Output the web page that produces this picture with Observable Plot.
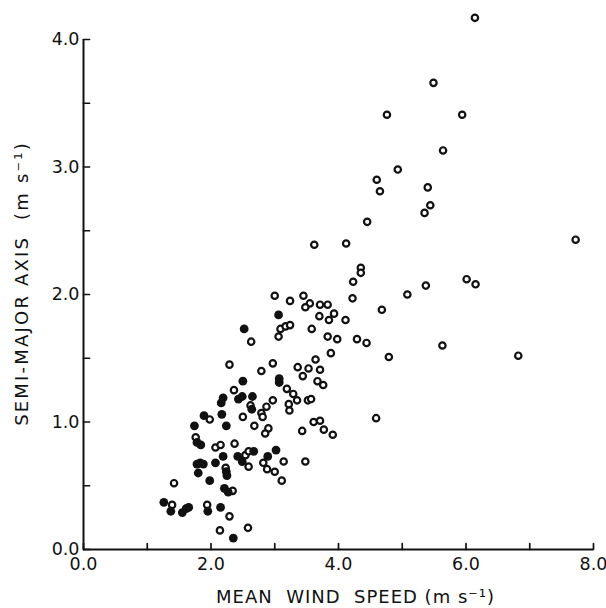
<!DOCTYPE html>
<html><head><meta charset="utf-8">
<script src="https://cdn.jsdelivr.net/npm/d3@7"></script>
<script src="https://cdn.jsdelivr.net/npm/@observablehq/plot@0.6"></script>
<style>body{margin:0;background:#fff} svg text{white-space:pre}</style>
</head><body><div id="chart"></div>
<script>
// Open circles: mean wind speed (m/s) and semi-major axis (m/s)
const openWind = [6.14,5.49,4.76,5.94,5.64,4.93,4.60,4.65,5.40,5.44,5.35,4.45,3.62,4.12,7.72,4.35,4.35,4.23,6.01,6.15,5.37,5.08,4.22,3.45,3.00,3.24,3.55,3.48,3.71,3.83,3.70,3.93,3.85,4.11,4.68,3.98,4.29,4.44,5.63,6.82,3.88,4.79,3.83,3.58,3.64,3.36,3.53,3.71,3.44,3.67,3.76,3.52,3.57,3.61,3.71,3.43,3.77,3.91,4.59,3.48,3.09,3.17,3.24,3.06,2.63,2.97,2.79,2.29,2.36,3.19,3.29,3.35,2.97,2.87,2.62,3.22,3.23,2.50,2.79,2.81,2.68,2.90,2.85,2.37,2.54,2.59,2.59,2.82,2.88,3.00,3.14,3.11,1.98,1.76,2.07,2.15,2.23,1.42,2.34,1.39,1.94,2.29,2.14,2.58];
const openAxis = [4.17,3.66,3.41,3.41,3.13,2.98,2.90,2.81,2.84,2.70,2.64,2.57,2.39,2.40,2.43,2.21,2.17,2.10,2.12,2.08,2.07,2.00,1.97,1.99,1.99,1.95,1.93,1.90,1.92,1.92,1.83,1.85,1.80,1.80,1.88,1.65,1.65,1.62,1.60,1.52,1.54,1.51,1.67,1.73,1.49,1.43,1.42,1.41,1.36,1.32,1.29,1.17,1.18,1.00,1.01,0.93,0.94,0.90,1.03,0.69,1.73,1.75,1.76,1.67,1.63,1.46,1.40,1.45,1.25,1.26,1.22,1.17,1.17,1.12,1.13,1.14,1.09,1.04,1.07,1.04,0.97,0.95,0.91,0.83,0.74,0.77,0.65,0.68,0.63,0.61,0.69,0.54,1.02,0.88,0.80,0.82,0.64,0.52,0.46,0.35,0.35,0.26,0.15,0.17];
// Filled circles
const filledWind = [3.06,2.52,2.50,3.07,3.07,2.49,2.43,2.65,2.64,2.16,2.19,1.89,2.17,2.24,1.74,1.78,1.84,2.19,2.07,1.78,1.83,1.88,1.80,1.98,2.24,2.25,2.21,2.27,1.26,1.37,1.55,1.61,1.65,1.95,2.15,2.35,2.42,2.49,2.67,2.89,3.02];
const filledAxis = [1.84,1.73,1.32,1.34,1.31,1.20,1.18,1.20,1.10,1.15,1.19,1.05,1.06,0.97,0.97,0.84,0.82,0.73,0.68,0.67,0.68,0.67,0.60,0.54,0.61,0.58,0.48,0.45,0.37,0.30,0.29,0.32,0.33,0.30,0.33,0.09,0.73,0.69,0.77,0.73,0.78];

const xTicksAll = [0,1,2,3,4,5,6,7,8];
const xTickLabels = [0,2,4,6,8];
const yTicksAll = [0,0.5,1,1.5,2,2.5,3,3.5,4];
const yTickLabels = [0,1,2,3,4];
const xTitle = "MEAN  WIND  SPEED (m s\u207B\u00B9)";
const yTitle = "SEMI-MAJOR AXIS  (m s\u207B\u00B9)";

const fmt = d3.format(".1f");
const ink = "#111";

const chart = Plot.plot({
  width: 606,
  height: 608,
  marginLeft: 83,
  marginRight: 13,
  marginTop: 39,
  marginBottom: 59,
  style: {fontFamily: "'DejaVu Sans', sans-serif", fontSize: "18px", color: ink, background: "#fff"},
  x: {domain: [0, 8], label: null},
  y: {domain: [0, 4], label: null},
  marks: [
    Plot.ruleX([0], {y1: 0, y2: 4, stroke: ink, strokeWidth: 2}),
    Plot.ruleY([0], {x1: 0, x2: 8, stroke: ink, strokeWidth: 2}),
    // inward ticks (upward on x axis, rightward on y axis)
    Plot.vector(xTicksAll, {x: d => d, y: 0, length: 6, rotate: 0, anchor: "start", shape: "arrow", r: 0, stroke: ink, strokeWidth: 1.7}),
    Plot.vector(yTicksAll, {x: 0, y: d => d, length: 6, rotate: 90, anchor: "start", shape: "arrow", r: 0, stroke: ink, strokeWidth: 1.7}),
    Plot.axisX(xTickLabels, {tickSize: 0, tickPadding: 8, tickFormat: fmt, fontSize: 17.5, label: null}),
    Plot.axisY(yTickLabels, {tickSize: 0, tickPadding: 4, tickFormat: fmt, fontSize: 17.5, label: null}),
    Plot.dot(openWind, {x: openWind, y: openAxis, r: 3.2, stroke: ink, strokeWidth: 2.2, fill: "#fff"}),
    Plot.dot(filledWind, {x: filledWind, y: filledAxis, r: 4.4, fill: ink, stroke: null}),
    Plot.text([xTitle], {frameAnchor: "bottom", lineAnchor: "middle", textAnchor: "middle", dy: 48, dx: 17, fontSize: 18, fill: ink, className: "xtitle"}),
    Plot.text([yTitle], {frameAnchor: "left", lineAnchor: "middle", textAnchor: "middle", rotate: -90, dx: -61, dy: -11, fontSize: 18, fill: ink, className: "ytitle"})
  ]
});
d3.select(chart).selectAll(".xtitle text").attr("letter-spacing", 1);
d3.select(chart).selectAll(".ytitle text").attr("letter-spacing", 2.2);
document.getElementById("chart").appendChild(chart);
</script>
</body></html>
